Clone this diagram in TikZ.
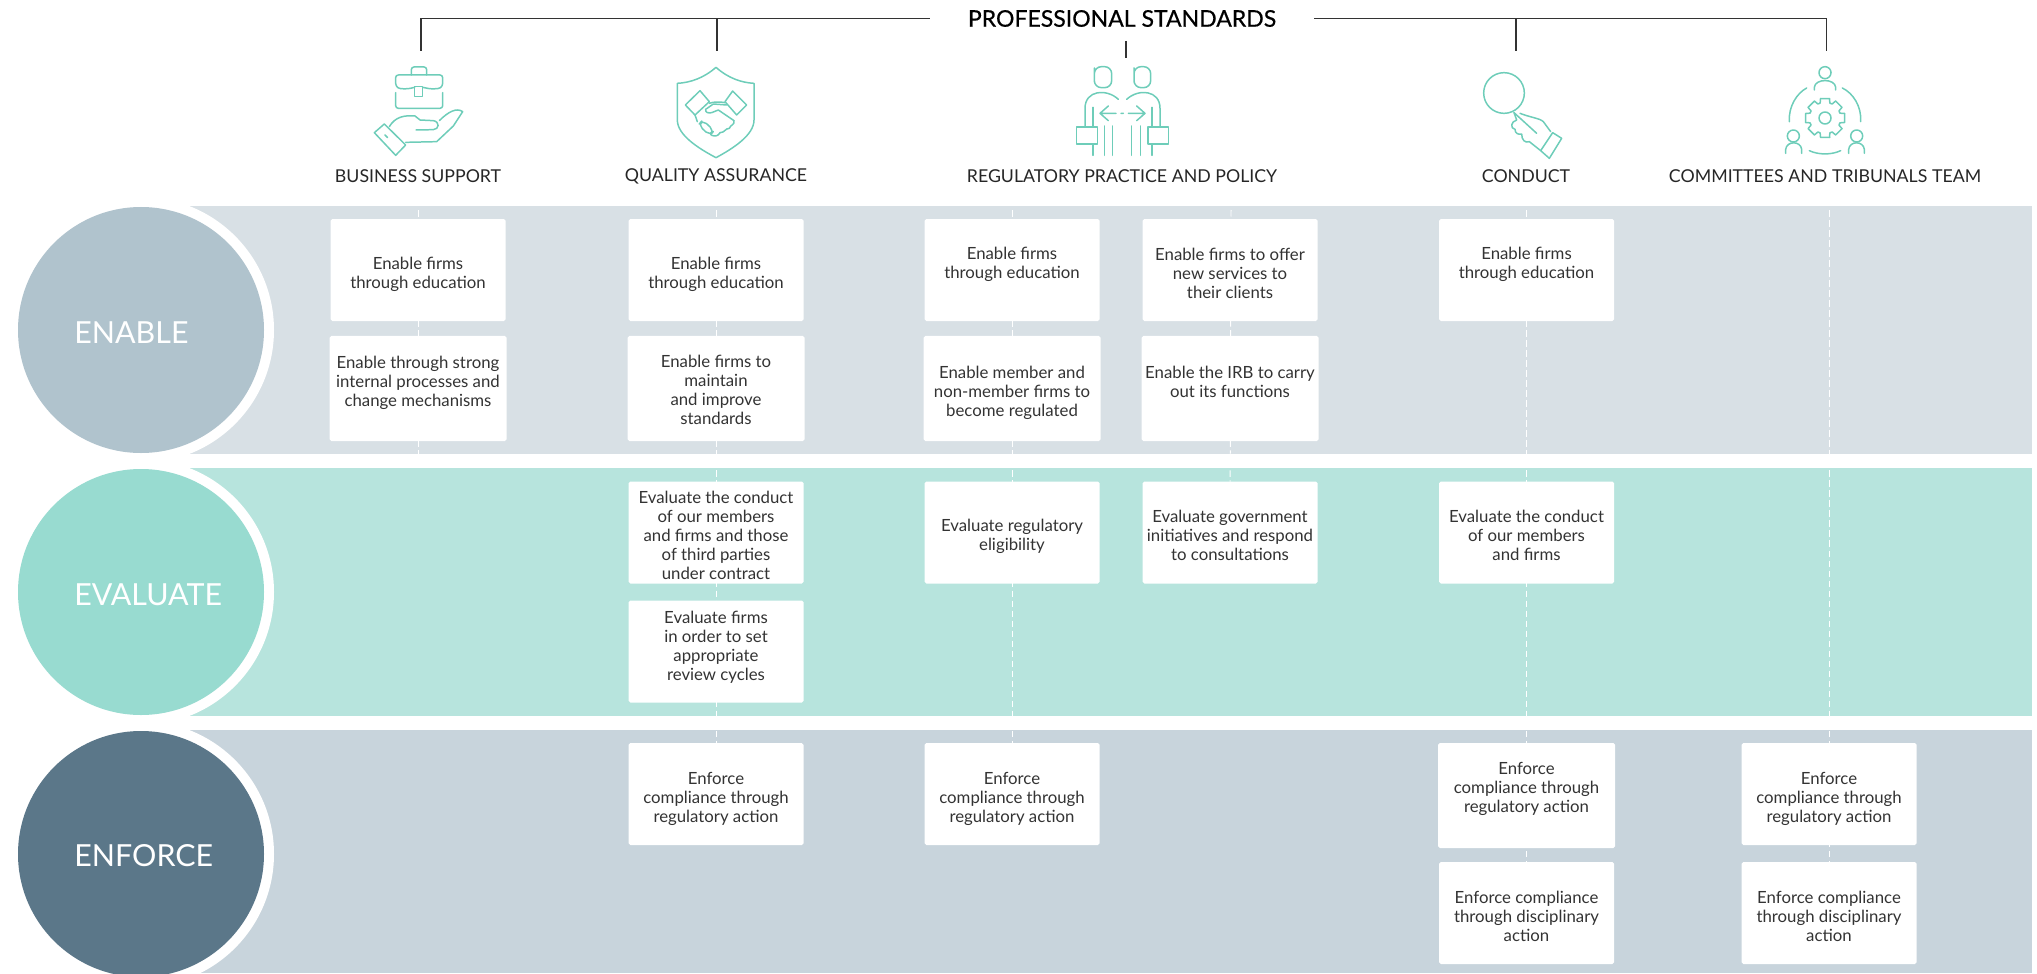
\documentclass[tikz,border=0pt]{standalone}
\usepackage{fontspec}
\setmainfont{Lato}
\newfontfamily\titlefont[FakeBold=0.5]{Lato}
\usetikzlibrary{positioning,backgrounds}
\definecolor{bandA}{HTML}{D8E0E5}
\definecolor{bandB}{HTML}{B7E4DD}
\definecolor{bandC}{HTML}{C8D4DC}
\definecolor{discA}{HTML}{B0C3CD}
\definecolor{discB}{HTML}{98DBD0}
\definecolor{discC}{HTML}{5B7789}
\definecolor{teal}{HTML}{6ECDB9}
\definecolor{ink}{HTML}{333333}
\newdimen\px
\px=0.02cm
\newcommand{\sink}[1]{\rule{0pt}{\dimexpr 7pt+#1\px\relax}}
\newcommand{\lift}[1]{\rule[\dimexpr -2.5pt-#1\px\relax]{0pt}{0pt}}

\begin{document}
\begin{tikzpicture}[
    x=0.02cm,y=-0.02cm,
    card/.style={rectangle,fill=white,rounded corners=1pt,outer sep=0pt,inner sep=0pt,align=center,
        minimum width=175*\px,minimum height=102*\px,text=ink,
        font=\fontsize{9.55}{10.8}\selectfont},
    tallcard/.style={card,minimum width=177*\px,minimum height=105*\px},
    ring/.style={circle,fill=white,minimum size=266*\px,inner sep=0pt},
    disc/.style={circle,minimum size=246*\px,inner sep=0pt},
    phasename/.style={anchor=west,text=white,inner sep=0pt,font=\fontsize{17.3}{19}\selectfont},
    deptname/.style={text=black!85,inner sep=0pt,font=\fontsize{10.1}{12}\selectfont},
    guide/.style={white,line width=0.55pt,dash pattern=on 3.7pt off 2pt},
    rule/.style={black!80,line width=0.6pt},
    icon/.style={teal,line width=0.85pt,line cap=round,line join=round}
]
\useasboundingbox (0,0) rectangle (2037,973);
\clip (0,0) rectangle (2037,973);

% Heading and rules
\node[inner xsep=38*\px,inner ysep=0pt,text=black,font=\titlefont\fontsize{13.1}{15}\selectfont] (title) at (1122,18.5) {PROFESSIONAL STANDARDS};
\coordinate (drop1) at (421,51);
\coordinate (drop2) at (717,51);
\coordinate (drop4) at (1516,51);
\coordinate (drop5) at (1826,51);
\coordinate (ticktop) at (1126,41);
\coordinate (tickend) at (1126,58);
\draw[rule] (drop1) |- (title.west);
\draw[rule] (drop2) |- (title.west);
\draw[rule] (drop4) |- (title.east);
\draw[rule] (drop5) |- (title.east);
\draw[rule] (ticktop) -- (tickend);

% Column names
\node[deptname] (dept1) at (418,176) {BUSINESS SUPPORT};
\node[deptname] (dept2) at (716,176) {QUALITY ASSURANCE};
\node[deptname] (dept3) at (1122,176) {REGULATORY PRACTICE AND POLICY};
\node[deptname] (dept4) at (1526,176) {CONDUCT};
\node[deptname] (dept5) at (1825,176) {COMMITTEES AND TRIBUNALS TEAM};

% Circles
\node[ring] (ringA) at (141,330) {};
\node[ring] (ringB) at (141,592) {};
\node[ring] (ringC) at (141,854) {};
\node[disc,fill=discA] (discA) at (141,330) {};
\node[disc,fill=discB] (discB) at (141,592) {};
\node[disc,fill=discC] (discC) at (141,854) {};
\node[phasename] (enable) at (74,333) {ENABLE};
\node[phasename] (evaluate) at (74,595) {EVALUATE};
\node[phasename] (enforce) at (74,856) {ENFORCE};

% Enable
\node[card] (en1a) at (418,270) {\sink{8}Enable firms\\through education};
\node[tallcard,below=0.3cm of en1a] (en1b) {Enable through strong\\internal processes and\\change mechanisms\lift{10}};
\node[card] (en2a) at (716,270) {\sink{8}Enable firms\\through education};
\node[tallcard,below=0.3cm of en2a] (en2b) {\sink{3}Enable firms to\\maintain\\and improve\\standards};
\node[card] (en3a) at (1012,270) {Enable firms\\through education\lift{9}};
\node[tallcard,below=0.3cm of en3a] (en3b) {\sink{9}Enable member and\\non-member firms to\\become regulated};
\node[card] (en4a) at (1230,270) {\sink{6}Enable firms to offer\\new services to\\their clients};
\node[tallcard,below=0.3cm of en4a] (en4b) {Enable the IRB to carry\\out its functions\lift{9}};
\node[card] (en5a) at (1526.5,270) {Enable firms\\through education\lift{9}};

% Evaluate
\node[card] (ev2a) at (716,532.5) {\sink{6}Evaluate the conduct\\of our members\\and firms and those\\of third parties\\under contract};
\node[card,below=0.34cm of ev2a] (ev2b) {Evaluate firms\\in order to set\\appropriate\\review cycles\lift{7}};
\node[card] (ev3a) at (1012,532.5) {\sink{8}Evaluate regulatory\\eligibility};
\node[card] (ev4a) at (1230,532.5) {\sink{5}Evaluate government\\initiatives and respond\\to consultations};
\node[card] (ev5a) at (1526.5,532.5) {\sink{5}Evaluate the conduct\\of our members\\and firms};

% Enforce
\node[card] (ef2a) at (716,794) {\sink{9}Enforce\\compliance through\\regulatory action};
\node[card] (ef3a) at (1012,794) {\sink{9}Enforce\\compliance through\\regulatory action};
\node[tallcard] (ef5a) at (1526.5,795.5) {Enforce\\compliance through\\regulatory action\lift{12}};
\node[card,below=0.28cm of ef5a] (ef5b) {\sink{6}Enforce compliance\\through disciplinary\\action};
\node[card] (ef6a) at (1829,794) {\sink{9}Enforce\\compliance through\\regulatory action};
\node[card,below=0.34cm of ef6a] (ef6b) {\sink{6}Enforce compliance\\through disciplinary\\action};

% Bands and dashed guides
\coordinate (top1) at (418,210);
\coordinate (top2) at (716,210);
\coordinate (top3) at (1012,210);
\coordinate (top4) at (1231,210);
\coordinate (top5) at (1526.5,210);
\coordinate (top6) at (1829,210);
\coordinate (foot1) at (418,454);
\begin{scope}[on background layer]
    \fill[bandA] (189,206) rectangle (2032,454);
    \fill[bandB] (189,468) rectangle (2032,716);
    \fill[bandC] (189,730) rectangle (2032,973);
    \draw[guide] (top1) -- (foot1);
    \draw[guide] (top2) -- (ef2a);
    \draw[guide] (top3) -- (ef3a);
    \draw[guide] (top4) -- (ev4a);
    \draw[guide] (top5) -- (ef5b);
    \draw[guide] (top6) -- (ef6b);
\end{scope}

% Briefcase on a hand
\begin{scope}[shift={(340,0)},scale=1/3,icon]
    \draw[rounded corners=1.5pt] (214,225) -- (214,201) -- (260,201) -- (260,225);
    \draw[rounded corners=1.5pt] (224,262) .. controls (205,268) and (180,268) .. (167,258) -- (167,225) -- (308,225) -- (308,258) .. controls (295,268) and (270,268) .. (248,262);
    \draw (224,260) rectangle (248,290);
    \draw[rounded corners=1.5pt] (167,278) -- (167,325) -- (308,325) -- (308,278);
    \draw (103,398) -- (133,372) -- (197,435) -- (167,466) -- cycle;
    \draw (135,405) -- (143,413);
    \draw (148,380) .. controls (165,350) and (195,345) .. (225,348) -- (240,360) -- (280,362) .. controls (300,365) and (298,388) .. (280,389) -- (228,390);
    \draw (197,427) -- (290,425) -- (340,378) -- (368,335) .. controls (350,322) and (325,335) .. (298,362);
\end{scope}

% Shield with handshake
\begin{scope}[shift={(670,60)},scale=1/3,icon]
    \draw (138,22) .. controls (175,55) and (215,68) .. (252,70) -- (252,180) .. controls (252,225) and (190,265) .. (138,293) .. controls (85,265) and (22,225) .. (22,180) -- (22,70) .. controls (60,68) and (100,55) .. (138,22) -- cycle;
    \draw (46,135) -- (90,92) -- (118,125) -- (75,165) -- cycle;
    \draw (165,125) -- (188,93) -- (230,135) -- (200,165) -- cycle;
    \draw (118,130) .. controls (130,125) and (150,125) .. (165,128);
    \draw (170,135) -- (130,132) -- (107,148) .. controls (105,158) and (115,160) .. (125,158) -- (145,150) -- (192,182) .. controls (195,195) and (180,195) .. (178,205) .. controls (165,205) and (165,218) .. (150,218) .. controls (145,228) and (135,230) .. (125,226);
    \draw (75,165) -- (82,185);
    \draw[rounded corners=3pt] (85,195) -- (98,180) -- (132,212) -- (120,227) -- cycle;
\end{scope}

% Two people with arrows
\begin{scope}[shift={(1040,0)},scale=1/3,icon]
    \draw[rounded corners=4pt] (163,225) -- (163,200) -- (215,200) -- (215,263) -- (163,263) -- cycle;
    \draw[rounded corners=4pt] (282,225) -- (282,200) -- (332,200) -- (332,263) -- (282,263) -- cycle;
    \draw (135,380) -- (135,325) .. controls (135,270) and (200,265) .. (235,298);
    \draw (260,298) .. controls (295,265) and (360,270) .. (360,325) -- (360,380);
    \draw (159,322) -- (159,380) (159,432) -- (159,466);
    \draw (336,322) -- (336,380) (336,432) -- (336,466);
    \draw (110,381) rectangle (172,432);
    \draw (324,381) rectangle (386,432);
    \draw (193,378) -- (193,466) (218,378) -- (218,466);
    \draw (275,378) -- (275,466) (302,378) -- (302,466);
    \draw (205,318) -- (180,340) -- (205,362) (180,340) -- (228,340) (243,340) -- (250,340) (265,340) -- (315,340) (290,318) -- (315,340) -- (290,362);
\end{scope}

% Magnifier in a hand
\begin{scope}[shift={(1440,0)},scale=1/3,icon]
    \draw (192,279) circle (61);
    \draw (222,338) -- (290,400);
    \draw (240,340) .. controls (270,352) and (300,355) .. (310,365) -- (332,395);
    \draw (338,398) -- (365,415) -- (328,475) -- (302,452) -- cycle;
    \draw (222,338) -- (230,360) .. controls (212,365) and (210,385) .. (225,388) .. controls (225,400) and (235,405) .. (245,402) .. controls (245,420) and (255,430) .. (268,425) -- (302,452);
\end{scope}

% Committee round a gear
\begin{scope}[shift={(1440,0)},scale=1/3,icon]
    \draw (1155,218) circle (18);
    \draw (1123,270) -- (1123,262) .. controls (1125,235) and (1185,235) .. (1187,262) -- (1187,270);
    \draw (1060,408) circle (18);
    \draw (1037,460) -- (1037,448) .. controls (1040,422) and (1082,422) .. (1085,448) -- (1085,460);
    \draw (1250,408) circle (18);
    \draw (1226,460) -- (1226,448) .. controls (1229,422) and (1270,422) .. (1273,448) -- (1273,460);
    \draw (1048,365) .. controls (1045,320) and (1070,280) .. (1100,264);
    \draw (1207,264) .. controls (1240,280) and (1265,320) .. (1262,365);
    \draw (1108,452) .. controls (1135,465) and (1175,465) .. (1202,452);
    \begin{scope}[shift={(1155,354)}]
        \draw (0,0) circle (18);
        \foreach \tooth in {0,45,...,315}
            \draw (\tooth-13:60) -- (\tooth+13:60) -- (\tooth+18:47) -- (\tooth+27:47) -- (\tooth+32:60);
    \end{scope}
\end{scope}

\end{tikzpicture}
\end{document}
